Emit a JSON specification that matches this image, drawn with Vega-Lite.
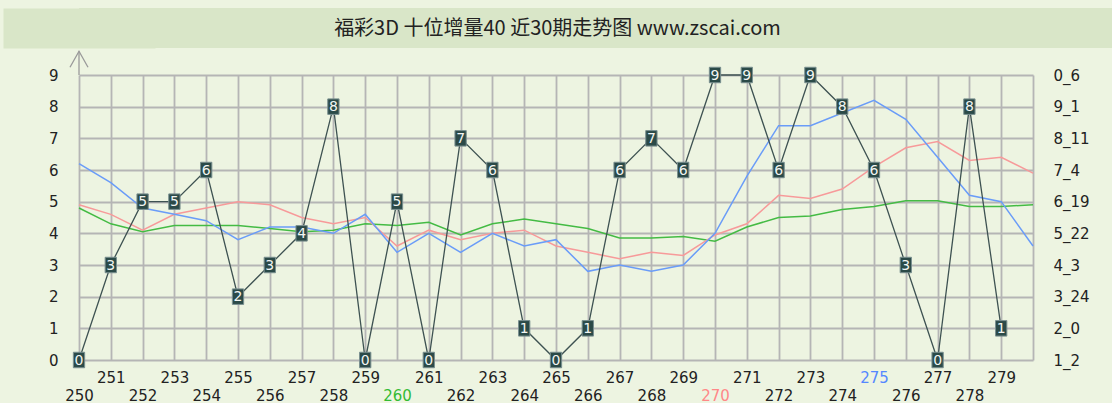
{
  "$schema": "https://vega.github.io/schema/vega-lite/v6.json",
  "background": "#edf4e1",
  "padding": {"left": 3, "top": 8, "right": 0, "bottom": 0},
  "spacing": 0,
  "columns": 1,
  "align": "none",
  "config": {"view": {"stroke": null}, "font": "DejaVu Sans"},
  "datasets": {
    "digits": [
      {"p": 250, "v": 0}, {"p": 251, "v": 3}, {"p": 252, "v": 5}, {"p": 253, "v": 5}, {"p": 254, "v": 6},
      {"p": 255, "v": 2}, {"p": 256, "v": 3}, {"p": 257, "v": 4}, {"p": 258, "v": 8}, {"p": 259, "v": 0},
      {"p": 260, "v": 5}, {"p": 261, "v": 0}, {"p": 262, "v": 7}, {"p": 263, "v": 6}, {"p": 264, "v": 1},
      {"p": 265, "v": 0}, {"p": 266, "v": 1}, {"p": 267, "v": 6}, {"p": 268, "v": 7}, {"p": 269, "v": 6},
      {"p": 270, "v": 9}, {"p": 271, "v": 9}, {"p": 272, "v": 6}, {"p": 273, "v": 9}, {"p": 274, "v": 8},
      {"p": 275, "v": 6}, {"p": 276, "v": 3}, {"p": 277, "v": 0}, {"p": 278, "v": 8}, {"p": 279, "v": 1}
    ],
    "avg": [
      {"p": 250, "s": "s3", "v": 4.8}, {"p": 251, "s": "s3", "v": 4.3}, {"p": 252, "s": "s3", "v": 4.05}, {"p": 253, "s": "s3", "v": 4.25},
      {"p": 254, "s": "s3", "v": 4.25}, {"p": 255, "s": "s3", "v": 4.25}, {"p": 256, "s": "s3", "v": 4.15}, {"p": 257, "s": "s3", "v": 4.05},
      {"p": 258, "s": "s3", "v": 4.1}, {"p": 259, "s": "s3", "v": 4.3}, {"p": 260, "s": "s3", "v": 4.25}, {"p": 261, "s": "s3", "v": 4.35},
      {"p": 262, "s": "s3", "v": 3.95}, {"p": 263, "s": "s3", "v": 4.3}, {"p": 264, "s": "s3", "v": 4.45}, {"p": 265, "s": "s3", "v": 4.3},
      {"p": 266, "s": "s3", "v": 4.15}, {"p": 267, "s": "s3", "v": 3.85}, {"p": 268, "s": "s3", "v": 3.85}, {"p": 269, "s": "s3", "v": 3.9},
      {"p": 270, "s": "s3", "v": 3.75}, {"p": 271, "s": "s3", "v": 4.2}, {"p": 272, "s": "s3", "v": 4.5}, {"p": 273, "s": "s3", "v": 4.55},
      {"p": 274, "s": "s3", "v": 4.75}, {"p": 275, "s": "s3", "v": 4.85}, {"p": 276, "s": "s3", "v": 5.03}, {"p": 277, "s": "s3", "v": 5.03},
      {"p": 278, "s": "s3", "v": 4.85}, {"p": 279, "s": "s3", "v": 4.85}, {"p": 280, "s": "s3", "v": 4.9},
      {"p": 250, "s": "s2", "v": 4.9}, {"p": 251, "s": "s2", "v": 4.6}, {"p": 252, "s": "s2", "v": 4.1}, {"p": 253, "s": "s2", "v": 4.6},
      {"p": 254, "s": "s2", "v": 4.8}, {"p": 255, "s": "s2", "v": 5.0}, {"p": 256, "s": "s2", "v": 4.9}, {"p": 257, "s": "s2", "v": 4.5},
      {"p": 258, "s": "s2", "v": 4.3}, {"p": 259, "s": "s2", "v": 4.5}, {"p": 260, "s": "s2", "v": 3.6}, {"p": 261, "s": "s2", "v": 4.1},
      {"p": 262, "s": "s2", "v": 3.8}, {"p": 263, "s": "s2", "v": 4.0}, {"p": 264, "s": "s2", "v": 4.1}, {"p": 265, "s": "s2", "v": 3.6},
      {"p": 266, "s": "s2", "v": 3.4}, {"p": 267, "s": "s2", "v": 3.2}, {"p": 268, "s": "s2", "v": 3.4}, {"p": 269, "s": "s2", "v": 3.3},
      {"p": 270, "s": "s2", "v": 3.95}, {"p": 271, "s": "s2", "v": 4.3}, {"p": 272, "s": "s2", "v": 5.2}, {"p": 273, "s": "s2", "v": 5.1},
      {"p": 274, "s": "s2", "v": 5.4}, {"p": 275, "s": "s2", "v": 6.1}, {"p": 276, "s": "s2", "v": 6.7}, {"p": 277, "s": "s2", "v": 6.9},
      {"p": 278, "s": "s2", "v": 6.3}, {"p": 279, "s": "s2", "v": 6.4}, {"p": 280, "s": "s2", "v": 5.9},
      {"p": 250, "s": "s1", "v": 6.2}, {"p": 251, "s": "s1", "v": 5.6}, {"p": 252, "s": "s1", "v": 4.8}, {"p": 253, "s": "s1", "v": 4.6},
      {"p": 254, "s": "s1", "v": 4.4}, {"p": 255, "s": "s1", "v": 3.8}, {"p": 256, "s": "s1", "v": 4.2}, {"p": 257, "s": "s1", "v": 4.2},
      {"p": 258, "s": "s1", "v": 4.0}, {"p": 259, "s": "s1", "v": 4.6}, {"p": 260, "s": "s1", "v": 3.4}, {"p": 261, "s": "s1", "v": 4.0},
      {"p": 262, "s": "s1", "v": 3.4}, {"p": 263, "s": "s1", "v": 4.0}, {"p": 264, "s": "s1", "v": 3.6}, {"p": 265, "s": "s1", "v": 3.8},
      {"p": 266, "s": "s1", "v": 2.8}, {"p": 267, "s": "s1", "v": 3.0}, {"p": 268, "s": "s1", "v": 2.8}, {"p": 269, "s": "s1", "v": 3.0},
      {"p": 270, "s": "s1", "v": 4.0}, {"p": 271, "s": "s1", "v": 5.8}, {"p": 272, "s": "s1", "v": 7.4}, {"p": 273, "s": "s1", "v": 7.4},
      {"p": 274, "s": "s1", "v": 7.8}, {"p": 275, "s": "s1", "v": 8.2}, {"p": 276, "s": "s1", "v": 7.6}, {"p": 277, "s": "s1", "v": 6.4},
      {"p": 278, "s": "s1", "v": 5.2}, {"p": 279, "s": "s1", "v": 5.0}, {"p": 280, "s": "s1", "v": 3.6}
    ]
  },
  "concat": [
    {
      "width": 1033,
      "height": 40,
      "view": {"fill": "#d9e6c8", "stroke": null},
      "data": {"values": [{"title": "福彩3D 十位增量40 近30期走势图 www.zscai.com"}]},
      "mark": {"type": "text", "font": "Noto Sans CJK SC", "fontSize": 20, "color": "#222222", "baseline": "middle", "dy": 1, "dx": -38},
      "encoding": {
        "text": {"field": "title", "type": "nominal"},
        "y": {
          "datum": 0.5, "type": "quantitative",
          "scale": {"domain": [0, 1]},
          "axis": {
            "labels": false, "ticks": false, "grid": false, "title": null,
            "domain": true, "domainColor": "#d9e6c8", "domainWidth": 152,
            "minExtent": 76, "maxExtent": 76
          }
        }
      }
    },
    {
      "width": 954,
      "height": 285,
      "resolve": {"scale": {"x": "independent", "y": "independent"}},
      "layer": [
        {
          "encoding": {
            "x": {
              "field": "p", "type": "quantitative",
              "scale": {"domain": [250, 280], "nice": false, "zero": false},
              "axis": {
                "values": [250,251,252,253,254,255,256,257,258,259,260,261,262,263,264,265,266,267,268,269,270,271,272,273,274,275,276,277,278,279,280],
                "format": "d",
                "labelExpr": "datum.value == 280 ? '' : datum.label",
                "grid": true, "gridColor": "#b5b5b5", "gridWidth": 1.8,
                "ticks": false, "domain": false,
                "labelFlush": false, "labelOverlap": false,
                "labelFont": "DejaVu Sans", "labelFontSize": 15,
                "labelPadding": {"condition": {"test": "datum.value % 2 == 0", "value": 28}, "value": 10},
                "labelColor": {"condition": [
                  {"test": "datum.value == 260", "value": "#33bb33"},
                  {"test": "datum.value == 270", "value": "#ff8888"},
                  {"test": "datum.value == 275", "value": "#5588ff"}
                ], "value": "#222222"},
                "title": null
              }
            },
            "y": {
              "field": "v", "type": "quantitative",
              "scale": {"domain": [0, 9], "nice": false, "zero": false},
              "axis": {
                "values": [0,1,2,3,4,5,6,7,8,9],
                "grid": true, "gridColor": "#b5b5b5", "gridWidth": 1.8,
                "ticks": false, "domain": false,
                "labelFont": "DejaVu Sans", "labelFontSize": 15, "labelColor": "#222222", "labelPadding": 21,
                "minExtent": 76, "maxExtent": 76,
                "title": null
              }
            }
          },
          "layer": [
            {
              "data": {"name": "avg"},
              "mark": {"type": "line", "strokeWidth": 1.5},
              "encoding": {
                "color": {
                  "field": "s", "type": "nominal",
                  "scale": {"domain": ["s1", "s2", "s3"], "range": ["#6a9cf8", "#f79a9a", "#44bb44"]},
                  "legend": null
                }
              }
            },
            {
              "data": {"name": "digits"},
              "mark": {"type": "line", "color": "#3e5252", "strokeWidth": 1.3}
            },
            {
              "data": {"name": "digits"},
              "mark": {"type": "point", "shape": "M-0.73,-1H0.73V1H-0.73Z", "filled": true, "size": 240, "fill": "#2b4a48", "stroke": "#7a9090", "strokeWidth": 1, "opacity": 1}
            },
            {
              "data": {"name": "digits"},
              "mark": {"type": "text", "color": "#f2f5f2", "fontSize": 14, "baseline": "middle", "dy": 0.5},
              "encoding": {"text": {"field": "v", "type": "quantitative"}}
            }
          ]
        },
        {
          "mark": {"type": "rule", "color": "#6e6e6e", "strokeWidth": 1.3},
          "encoding": {
            "y": {
              "datum": 4.5, "type": "quantitative",
              "scale": {"domain": [0, 9], "nice": false, "zero": false},
              "axis": {
                "orient": "right",
                "values": [0,1,2,3,4,5,6,7,8,9],
                "labelExpr": "['1_2','2_0','3_24','4_3','5_22','6_19','7_4','8_11','9_1','0_6'][datum.value]",
                "grid": false, "ticks": false, "domain": false,
                "labelFont": "DejaVu Sans", "labelFontSize": 15, "labelColor": "#222222", "labelPadding": 20,
                "title": null
              }
            }
          }
        },
        {
          "data": {"name": "digits"},
          "transform": [{"filter": "datum.p == 250"}],
          "mark": {"type": "rule", "color": "#9a9a9a", "strokeWidth": 1.3, "clip": false},
          "encoding": {
            "x": {"field": "p", "type": "quantitative", "scale": {"domain": [250, 280], "nice": false, "zero": false}, "axis": null},
            "y": {"datum": 9, "type": "quantitative", "scale": {"domain": [0, 9], "nice": false, "zero": false}, "axis": null},
            "y2": {"datum": 9.75}
          }
        },
        {
          "data": {"name": "digits"},
          "transform": [{"filter": "datum.p == 250"}],
          "mark": {"type": "point", "shape": "M-1,1.78L0,0L1,1.78", "filled": false, "size": 324, "stroke": "#9a9a9a", "strokeWidth": 1.3, "opacity": 1, "clip": false},
          "encoding": {
            "x": {"field": "p", "type": "quantitative", "scale": {"domain": [250, 280], "nice": false, "zero": false}, "axis": null},
            "y": {"datum": 9.75, "type": "quantitative", "scale": {"domain": [0, 9], "nice": false, "zero": false}, "axis": null}
          }
        }
      ]
    }
  ]
}
